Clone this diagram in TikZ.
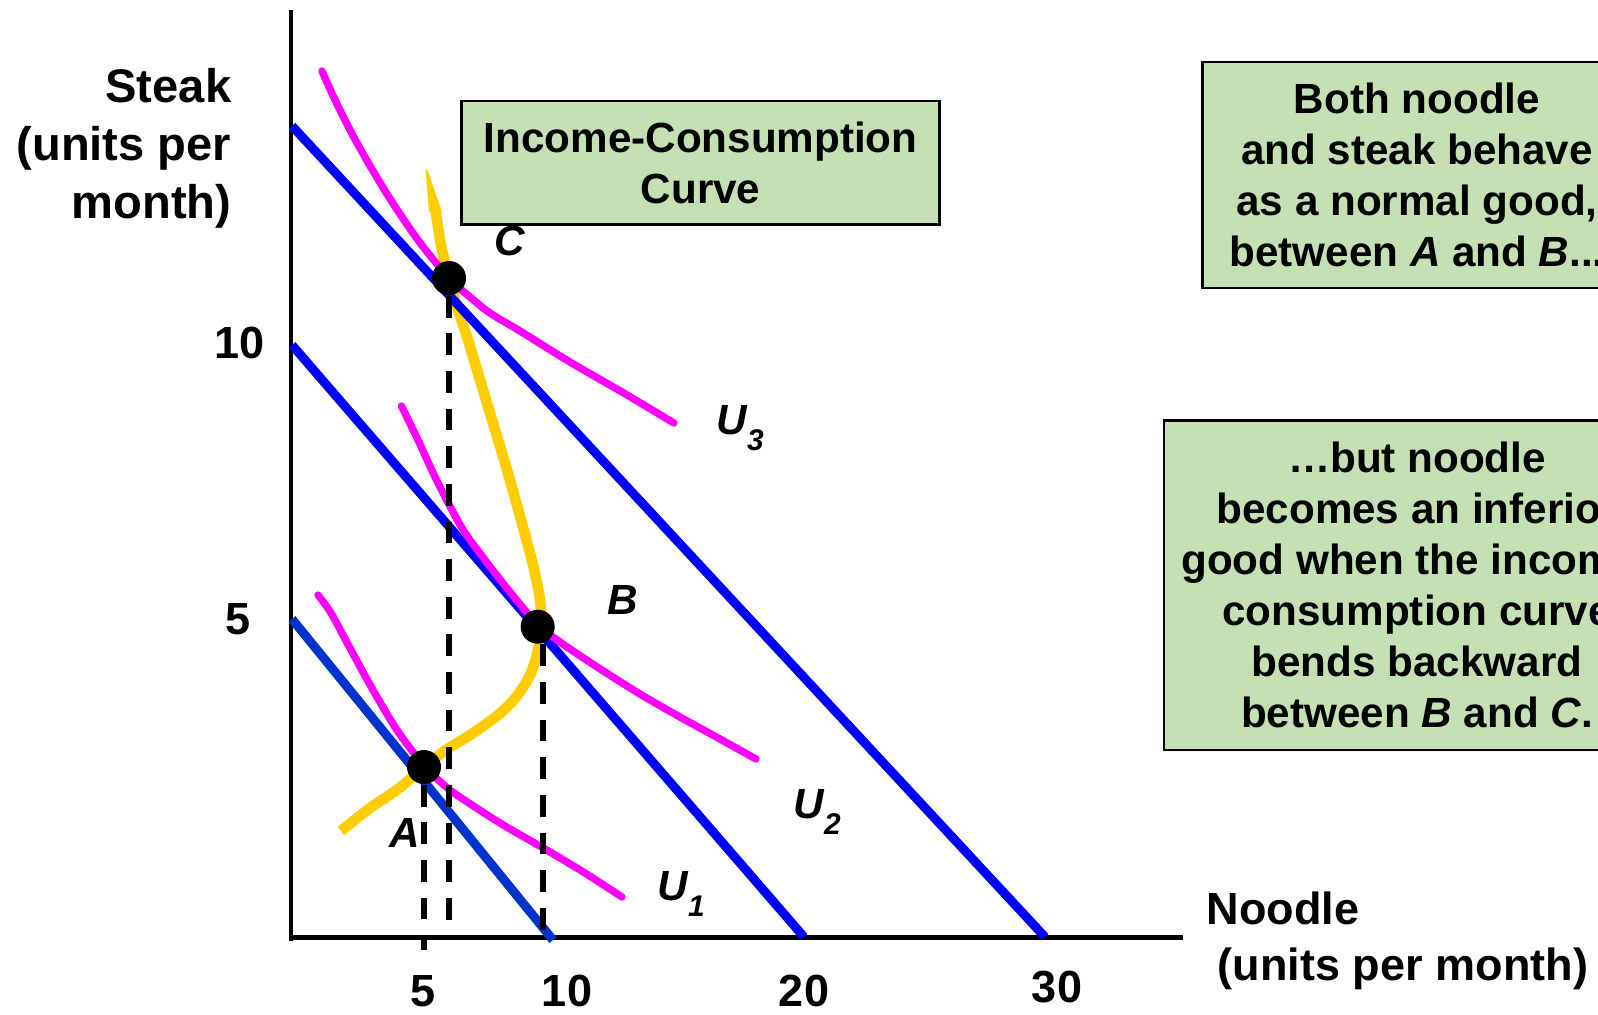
\documentclass[tikz,border=0pt]{standalone}
\usepackage{fontspec}
\setmainfont{Liberation Sans}
\newcommand\fsz[2]{\fontsize{#1}{#2}\selectfont}
\newcommand\Ulab[1]{\textit{U}\raisebox{-0.4em}{\fsz{8.5}{9}\textit{#1}}}
\definecolor{iccyellow}{RGB}{255,204,0}
\definecolor{notegreen}{RGB}{197,224,180}
\definecolor{budgetone}{RGB}{0,51,204}
\definecolor{budgetblue}{RGB}{0,0,255}
\definecolor{pinkU}{RGB}{255,0,255}
\begin{document}
\begin{tikzpicture}[x=0.01cm,y=-0.01cm,
  budget/.style={line width=2.56pt, budgetblue},
  indiff/.style={line width=2.1pt, pinkU, line cap=round, line join=round},
  icc/.style={line width=3pt, iccyellow},
  axisline/.style={line width=1.4pt, black},
  guide/.style={line width=1.6pt, black, dash pattern=on 6.2pt off 4.5pt},
  dot/.style={circle, fill=black, minimum size=0.34cm, inner sep=0pt},
  ptlab/.style={font=\fsz{12}{14}\bfseries\itshape, inner sep=0pt},
  num/.style={font=\fsz{12.8}{15}\bfseries, inner sep=0pt},
  axlab/.style={font=\bfseries, inner sep=0pt},
  note/.style={draw=black, line width=0.75pt, fill=notegreen, font=\fsz{12}{14.5}\bfseries, align=center, inner sep=0pt}
]
\useasboundingbox (0,0) rectangle (1598,1014);
\clip (0,0) rectangle (1598,1014);

% axes
\coordinate (ytop) at (291,10);
\coordinate (ybot) at (291,941);
\coordinate (xleft) at (289,937.5);
\coordinate (xright) at (1183,937.5);
\draw[axisline] (ytop) -- (ybot);
\draw[axisline] (xleft) -- (xright);

% yellow income-consumption curve
\fill[iccyellow] (425.5,170) -- (427.5,170) -- (442,212) -- (429,212) -- cycle;
\draw[icc] plot[smooth, tension=0.55] coordinates {
  (435.5,210) (441,245) (449,278) (458,310) (468,340) (486,400) (505,463)
  (521,520) (533,565) (540,600) (541,625) (538,650) (530,675) (516,697)
  (498,715) (470,735) (446,750) (424,767) (398,789) (370,808) (341,831)};

% budget lines
\coordinate (L1a) at (292,619);
\coordinate (L1b) at (553,940);
\coordinate (L2a) at (292,345);
\coordinate (L2b) at (804,937);
\coordinate (L3a) at (292,126);
\coordinate (L3b) at (1045,937);
\draw[budget, budgetone] (L1a) -- (L1b);
\draw[budget] (L2a) -- (L2b);
\draw[budget] (L3a) -- (L3b);

% indifference curves
\draw[indiff] plot[smooth, tension=0.5] coordinates {
  (318,595) (331,613) (351,650) (373,690) (395,727) (413,752) (430,772)
  (450,790) (475,807) (505,826) (545,849) (585,873) (622,897)};
\draw[indiff] plot[smooth, tension=0.5] coordinates {
  (401.5,406) (418,440) (438,483) (462,528) (485,560) (510,592)
  (538,625) (560,642) (582,657) (605,672) (640,694) (680,717)
  (720,739) (756,759)};
\draw[indiff] plot[smooth, tension=0.5] coordinates {
  (322,71) (336,102) (357,143) (387,194) (418,240) (449,278) (470,297)
  (490,313) (520,331) (570,362) (622,392) (674,423)};

% points
\node[dot] (A) at (424,767) {};
\node[dot] (B) at (537.7,626.7) {};
\node[dot] (C) at (449,278) {};

% guide lines
\coordinate (Afoot) at (424,950);
\coordinate (Bfoot) at (543,943);
\coordinate (Cfoot) at (449,937);
\draw[guide] (A.south -| Afoot) -- (Afoot);
\draw[guide] (B.south -| Bfoot) -- (Bfoot);
\draw[guide] (C.south -| Cfoot) -- (Cfoot);

% point labels
\node[ptlab] (Alab) at (405,833) {A};
\node[ptlab] (Blab) at (623,600) {B};
\node[ptlab] (Clab) at (510,241) {C};
\node[ptlab, anchor=base west] (U3) at (716,434) {\Ulab{3}};
\node[ptlab, anchor=base west] (U2) at (793,818) {\Ulab{2}};
\node[ptlab, anchor=base west] (U1) at (657,900) {\Ulab{1}};

% axis numbers
\node[num, anchor=base] (x5) at (423,1006) {5};
\node[num, anchor=base] (x10) at (567,1006) {10};
\node[num, anchor=base] (x20) at (804,1006) {20};
\node[num, anchor=base] (x30) at (1057,1002) {30};
\node[num, anchor=base] (y10) at (239.5,358) {10};
\node[num, anchor=base] (y5) at (238.5,634) {5};

% axis titles
\node[axlab, font=\fsz{13.4}{16.5}\bfseries, align=right, anchor=east] (ylab) at (232,148) {Steak\\(units per\\month)};
\node[axlab, font=\fsz{12.8}{15.9}\bfseries, align=left, anchor=west] (xlab) at (1206,941) {Noodle\\\hspace*{0.25em}(units per month)};

% notes
\node[note, minimum width=4.78cm, minimum height=1.233cm] (icclab) at (700.6,162.5) {Income-Consumption\\Curve};
\node[note, minimum width=4.29cm, minimum height=2.26cm] (note1) at (1417,175) {Both noodle\\and steak behave\\as a normal good,\\between \textit{A} and \textit{B}...};
\node[note, minimum width=5.06cm, minimum height=3.295cm] (note2) at (1417,585.3) {…but noodle\\becomes an inferior\\good when the income-\\consumption curve\\bends backward\\between \textit{B} and \textit{C}.};
\end{tikzpicture}
\end{document}
